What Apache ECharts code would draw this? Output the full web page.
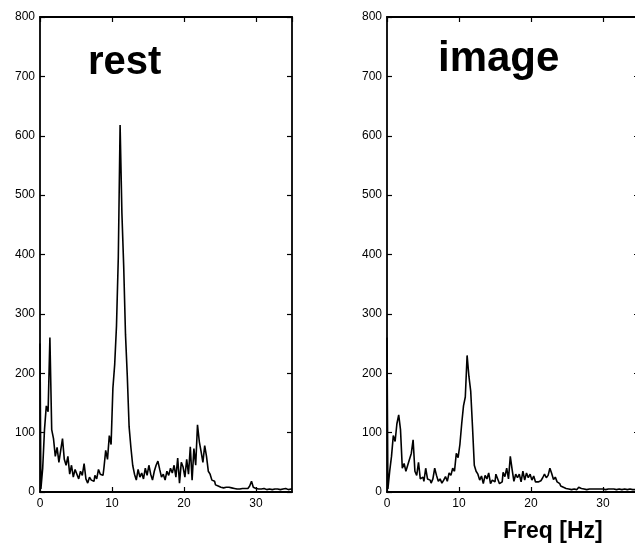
<!DOCTYPE html>
<html>
<head>
<meta charset="utf-8">
<script src="https://cdn.jsdelivr.net/npm/echarts@6/dist/echarts.min.js"></script>
<style>
  html, body { margin: 0; padding: 0; background: #fff; }
  #chart { width: 635px; height: 543px; }
</style>
</head>
<body>
<div id="chart"></div>
<script>
// frequency bins (Hz), 0.25 Hz apart
const freq = [
  0, 0.25, 0.5, 0.75, 1, 1.25, 1.5, 1.75,
  2, 2.25, 2.5, 2.75, 3, 3.25, 3.5, 3.75,
  4, 4.25, 4.5, 4.75, 5, 5.25, 5.5, 5.75,
  6, 6.25, 6.5, 6.75, 7, 7.25, 7.5, 7.75,
  8, 8.25, 8.5, 8.75, 9, 9.25, 9.5, 9.75,
  10, 10.25, 10.5, 10.75, 11, 11.25, 11.5, 11.75,
  12, 12.25, 12.5, 12.75, 13, 13.25, 13.5, 13.75,
  14, 14.25, 14.5, 14.75, 15, 15.25, 15.5, 15.75,
  16, 16.25, 16.5, 16.75, 17, 17.25, 17.5, 17.75,
  18, 18.25, 18.5, 18.75, 19, 19.25, 19.5, 19.75,
  20, 20.25, 20.5, 20.75, 21, 21.25, 21.5, 21.75,
  22, 22.25, 22.5, 22.75, 23, 23.25, 23.5, 23.75,
  24, 24.25, 24.5, 24.75, 25, 25.25, 25.5, 25.75,
  26, 26.25, 26.5, 26.75, 27, 27.25, 27.5, 27.75,
  28, 28.25, 28.5, 28.75, 29, 29.25, 29.5, 29.75,
  30, 30.25, 30.5, 30.75, 31, 31.25, 31.5, 31.75,
  32, 32.25, 32.5, 32.75, 33, 33.25, 33.5, 33.75,
  34, 34.25, 34.5, 34.75, 35
];

// power spectrum, "rest" condition
const restPower = [
  250, 5, 40, 105, 145, 135, 260, 105,
  90, 60, 75, 50, 70, 90, 55, 45,
  60, 30, 45, 25, 38, 30, 22, 35,
  28, 48, 22, 15, 25, 20, 18, 28,
  22, 38, 30, 28, 40, 70, 55, 95,
  80, 175, 215, 280, 395, 618, 470, 380,
  265, 195, 110, 75, 45, 30, 20, 38,
  25, 32, 22, 40, 28, 45, 30, 20,
  35, 45, 52, 38, 25, 30, 20, 35,
  28, 40, 32, 45, 25, 57, 15, 50,
  42, 25, 55, 30, 76, 20, 73, 45,
  113, 85, 68, 50, 78, 60, 35, 30,
  20, 18, 12, 10, 8, 8, 7, 8,
  10, 8, 7, 6, 6, 5, 6, 5,
  6, 5, 6, 6, 7, 10, 18, 8,
  6, 5, 4, 5, 6, 5, 4, 5,
  4, 4, 5, 6, 5, 4, 4, 5,
  6, 5, 4, 5, 5
];

// power spectrum, "image" condition
const imagePower = [
  260, 5, 35, 60, 95, 85, 115, 130,
  105, 40, 48, 35, 45, 55, 65, 88,
  35, 28, 50, 22, 25, 18, 40, 22,
  20, 15, 22, 40, 28, 18, 22, 15,
  20, 26, 18, 32, 28, 40, 35, 65,
  58, 80, 115, 145, 160, 230, 195, 170,
  110, 45, 35, 30, 20, 27, 14, 28,
  22, 32, 14, 20, 17, 30, 22, 14,
  17, 33, 26, 40, 22, 60, 38, 18,
  30, 24, 30, 17, 35, 20, 32, 24,
  30, 20, 27, 17, 17, 19, 22, 24,
  30, 24, 28, 40, 31, 21, 25, 17,
  14, 10, 8, 6, 5, 5, 4, 5,
  5, 4, 6, 8, 6, 5, 5, 4,
  5, 4, 5, 5, 4, 5, 5, 4,
  5, 4, 4, 5, 5, 4, 5, 4,
  4, 5, 4, 4, 5, 4, 4, 5,
  4, 5, 4, 4, 5
];

const panelTitles = ['rest', 'image'];
const xAxisName = 'Freq [Hz]';

const chart = echarts.init(document.getElementById('chart'), null, { renderer: 'canvas' });

const FONT = 'Liberation Sans, Arial, sans-serif';
const lineStyle = { color: '#000', width: 1.8 };

// bottom + top x axes for one panel
function xAxes(gridIndex) {
  const base = {
    type: 'value',
    gridIndex: gridIndex,
    min: 0,
    max: 35,
    interval: 10,
    axisLine: { show: true, onZero: false, lineStyle: lineStyle },
    axisTick: { show: true, inside: true, length: 5, lineStyle: { color: '#000', width: 1.2 } },
    splitLine: { show: false }
  };
  return [
    Object.assign({}, base, {
      position: 'bottom',
      axisLabel: { color: '#000', fontSize: 12, fontFamily: FONT, margin: 6, showMaxLabel: false }
    }),
    Object.assign({}, base, {
      position: 'top',
      axisLabel: { show: false }
    })
  ];
}

// left + right y axes for one panel
function yAxes(gridIndex) {
  const base = {
    type: 'value',
    gridIndex: gridIndex,
    min: 0,
    max: 800,
    interval: 100,
    axisLine: { show: true, onZero: false, lineStyle: lineStyle },
    axisTick: { show: true, inside: true, length: 5, lineStyle: { color: '#000', width: 1.2 } },
    splitLine: { show: false }
  };
  return [
    Object.assign({}, base, {
      position: 'left',
      axisLabel: { color: '#000', fontSize: 12, fontFamily: FONT, margin: 5 }
    }),
    Object.assign({}, base, {
      position: 'right',
      axisLabel: { show: false }
    })
  ];
}

const option = {
  backgroundColor: '#fff',
  animation: false,
  title: [
    {
      text: panelTitles[0],
      left: 83,
      top: 38,
      textStyle: { fontSize: 40, fontWeight: 'bold', fontFamily: FONT, color: '#000' }
    },
    {
      text: panelTitles[1],
      left: 433,
      top: 33,
      textStyle: { fontSize: 42, fontWeight: 'bold', fontFamily: FONT, color: '#000' }
    },
    {
      text: xAxisName,
      left: 498,
      top: 515,
      textStyle: { fontSize: 23, fontWeight: 'bold', fontFamily: FONT, color: '#000' }
    }
  ],
  grid: [
    { left: 40, top: 17, width: 252, height: 475, outerBoundsMode: 'none' },
    { left: 387, top: 17, width: 252, height: 475, outerBoundsMode: 'none' }
  ],
  xAxis: xAxes(0).concat(xAxes(1)),
  yAxis: yAxes(0).concat(yAxes(1)),
  series: [
    {
      name: panelTitles[0],
      type: 'line',
      xAxisIndex: 0,
      yAxisIndex: 0,
      step: 'middle',
      showSymbol: false,
      lineStyle: { color: '#000', width: 1.6 },
      data: freq.map((f, i) => [f, restPower[i]])
    },
    {
      name: panelTitles[1],
      type: 'line',
      xAxisIndex: 2,
      yAxisIndex: 2,
      step: 'middle',
      showSymbol: false,
      lineStyle: { color: '#000', width: 1.6 },
      data: freq.map((f, i) => [f, imagePower[i]])
    }
  ]
};

chart.setOption(option);
</script>
</body>
</html>
